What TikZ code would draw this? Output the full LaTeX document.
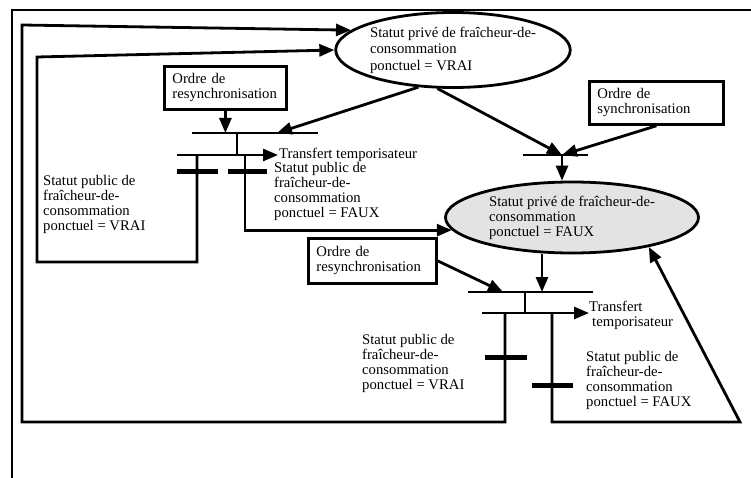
\documentclass[tikz,border=0pt]{standalone}
\usepackage{fontspec}
\setmainfont{Liberation Serif}
\usetikzlibrary{arrows.meta,shapes.geometric}

\begin{document}
\begin{tikzpicture}[x=1pt,y=-1pt,
  every node/.style={font=\fontsize{14.7}{15}\selectfont},
  trait/.style={line width=2.8pt},
  fleche/.style={line width=2.8pt,-{Triangle[length=15pt,width=12pt]}},
  recep/.style={line width=5pt},
  ordre/.style={draw,line width=2.8pt,align=left,inner xsep=8pt,inner ysep=0pt,anchor=north west},
  etat/.style={ellipse,draw,line width=2.8pt,align=left,inner sep=0pt},
  texte/.style={align=left,inner sep=0pt,anchor=north west}]
\useasboundingbox (0,0) rectangle (751,478);
\draw[trait] (12,478) -- (12,10) -- (751,10);
\node[etat,minimum width=233pt,minimum height=75pt,font=\fontsize{14.7}{16.5}\selectfont] (vrai) at (453,50) {Statut privé de fraîcheur-de-\\consommation\\ponctuel = VRAI};
\node[etat,fill=gray!22,minimum width=253pt,minimum height=71pt] (faux) at (572,217.5) {Statut privé de fraîcheur-de-\\consommation\\ponctuel = FAUX};
\node[ordre,text width=106pt,minimum height=43pt] (resync1) at (163,65) {Ordre de\\resynchronisation};
\node[ordre,text width=118pt,minimum height=43pt] (sync) at (588,80) {Ordre de\\synchronisation};
\node[ordre,text width=112pt,minimum height=45pt] (resync2) at (307,237) {Ordre de\\resynchronisation};
\coordinate (t1a) at (237,133);
\coordinate (t1b) at (237,155);
\coordinate (t1e) at (277,133);
\coordinate (b1g) at (197,155);
\coordinate (b1d) at (245,155);
\coordinate (t2) at (562,155);
\coordinate (t3a) at (525,292);
\coordinate (t3b) at (525,313);
\coordinate (t3e) at (503,292);
\coordinate (t3f) at (542,292);
\coordinate (b3g) at (505,313);
\coordinate (b3d) at (552,313);
\coordinate (coinA) at (22,422);
\coordinate (hautA) at (22,25);
\coordinate (coinB) at (37,262);
\coordinate (hautB) at (37,57);
\coordinate (coinC) at (740,422);
\draw[trait] (192,133) -- (318,133);
\draw[trait] (t1a) -- (t1b);
\draw[trait] (523,155) -- (588,155);
\draw[trait] (468,292) -- (593,292);
\draw[trait] (t3a) -- (t3b);
\node[anchor=west,inner sep=1pt] (tempo1) at (278,155) {Transfert temporisateur};
\draw[fleche] (177,155) -- (tempo1.west);
\node[texte] (tempo2) at (589,301) {Transfert\\\hspace{3pt}temporisateur};
\draw[fleche] (482,313) -- (t3b -| tempo2.west);
\draw[fleche] (resync1.south) -- (resync1.south |- t1a);
\draw[fleche] (vrai.227.5) -- (t1e);
\draw[fleche] (vrai.248) -- (t2);
\draw[fleche] (sync.south) -- (t2);
\draw[fleche] (t2) -- (t2 |- faux.north);
\draw[fleche] (resync2.east) -- (t3e);
\draw[fleche] (faux.south -| t3f) -- (t3f);
\draw[fleche] (b1g) |- (coinB) -- (hautB) -- (vrai.west);
\draw[fleche] (b1d) |- (faux.186);
\draw[fleche] (b3g) |- (coinA) -- (hautA) -- (vrai.169);
\draw[fleche] (b3d) |- (coinC) -- (faux.339);
\draw[recep] (177,172) -- (218,172);
\draw[recep] (228,172) -- (267,172);
\draw[recep] (485,357) -- (527,357);
\draw[recep] (532,385) -- (573,385);
\node[texte] (pub1) at (43,175) {Statut public de\\fraîcheur-de-\\consommation\\ponctuel = VRAI};
\node[texte] (pub2) at (274,162) {Statut public de\\fraîcheur-de-\\consommation\\ponctuel = FAUX};
\node[texte] (pub3) at (362,334) {Statut public de\\fraîcheur-de-\\consommation\\ponctuel = VRAI};
\node[texte] (pub4) at (586,351) {Statut public de\\fraîcheur-de-\\consommation\\ponctuel = FAUX};
\end{tikzpicture}
\end{document}
